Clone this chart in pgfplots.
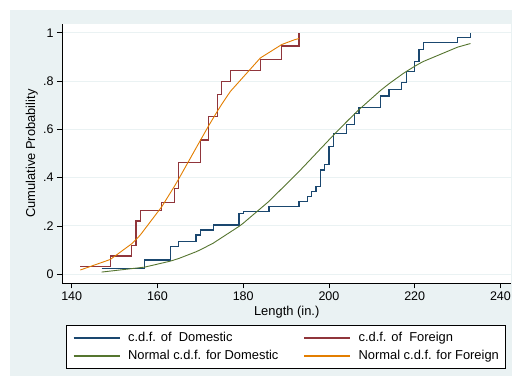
\documentclass[border=0pt]{standalone}
\usepackage{pgfplots}
\pgfplotsset{compat=1.18}
\usepackage{fontspec}
\setmainfont{Liberation Sans}
\definecolor{sbg}{HTML}{EAF2F3}
\definecolor{snavy}{HTML}{1A476F}
\definecolor{smaroon}{HTML}{90353B}
\definecolor{sgreen}{HTML}{55752F}
\definecolor{sorange}{HTML}{E37E00}

\pgfplotstableread{
x y
147 0.025
157 0.059
163 0.114
165 0.135
169 0.163
170 0.183
173 0.204
179 0.252
180 0.259
186 0.280
193 0.300
195 0.321
196 0.342
197 0.365
198 0.432
199 0.455
200 0.528
201 0.584
204 0.621
206 0.666
207 0.690
212 0.738
214 0.766
217 0.793
218 0.839
220 0.880
221 0.931
222 0.959
230 0.981
233 1.000
}\cdfdom

\pgfplotstableread{
x y
142 0.032
149 0.076
154 0.119
155 0.221
156 0.263
161 0.297
164 0.354
165 0.464
170 0.556
172 0.654
174 0.743
175 0.799
177 0.843
184 0.890
189 0.945
193 1.000
}\cdffor

\pgfplotstableread{
x y
147 0.0092
157 0.0296
163 0.0544
165 0.0656
169 0.0932
170 0.1013
173 0.1288
179 0.1980
180 0.2113
186 0.3019
193 0.4251
195 0.4625
196 0.4812
197 0.5000
198 0.5188
199 0.5375
200 0.5563
201 0.5749
204 0.6293
206 0.6646
207 0.6815
212 0.7605
214 0.7887
217 0.8271
218 0.8391
220 0.8610
221 0.8712
222 0.8808
230 0.9402
233 0.9552
}\normdom

\pgfplotstableread{
x y
142 0.0177
149 0.0613
154 0.1263
155 0.1437
156 0.1626
161 0.2796
164 0.3654
165 0.3959
170 0.5541
172 0.6164
174 0.6758
175 0.7040
177 0.7568
184 0.8954
189 0.9511
192 0.9710
193 0.9759
}\normfor

\begin{document}
\begin{tikzpicture}[x=1pt,y=1pt]
\clip (0,0) rectangle (512,376);
\fill[white] (0,0) rectangle (512,376);
\fill[sbg] (10,0) rectangle (520,366);
\begin{axis}[
  at={(62pt,92.7pt)}, anchor=south west,
  scale only axis, width=449.4pt, height=259.3pt,
  xmin=137.74, xmax=242.55, ymin=-0.0373, ymax=1.036,
  axis lines*=left,
  axis line style={-, black, line width=0.8pt},
  axis background/.style={fill=white},
  xtick={140,160,180,200,220,240},
  xticklabels={140,160,180,200,220,240},
  ytick={0,0.2,0.4,0.6,0.8,1},
  yticklabels={0,.2,.4,.6,.8,1},
  tick align=outside,
  major tick length=5pt,
  tick style={black, line width=0.8pt},
  ymajorgrids,
  grid style={sbg, line width=1pt},
  ticklabel style={font=\fontsize{12.5}{14}\selectfont},
  /pgf/number format/assume math mode=true,
  xlabel={Length (in.)},
  ylabel={Cumulative Probability},
  every axis x label/.style={at={(axis description cs:0.5,-0.1095)}, anchor=center, font=\fontsize{12.9}{15}\selectfont},
  every axis y label/.style={at={(axis description cs:-0.0674,0.5)}, anchor=center, rotate=90, font=\fontsize{12.9}{15}\selectfont},
  legend columns=2,
  legend cell align=left,
  legend style={
    name=leg,
    at={(axis description cs:0.0105,-0.1608)}, anchor=north west,
    draw=none, fill=white,
    font=\fontsize{12.9}{15}\selectfont,
    inner xsep=6pt, inner ysep=6.5pt,
    row sep=5.8pt,
    column sep=7.7pt,
    nodes={inner sep=0pt, text height=9.5pt, text depth=2.7pt},
    /tikz/every even column/.append style={column sep=25pt},
  },
]
\addplot[const plot, draw=snavy, line width=1.2pt, forget plot] table {\cdfdom};
\addplot[const plot, draw=smaroon, line width=1.2pt, forget plot] table {\cdffor};
\addplot[draw=sgreen, line width=0.9pt, forget plot] table {\normdom};
\addplot[draw=sorange, line width=0.9pt, forget plot] table {\normfor};
\addlegendimage{legend image code/.code={\draw[snavy, draw=snavy, line width=1.5pt] (0pt,0pt) -- (46pt,0pt);}}
\addlegendentry{c.d.f. of~~Domestic}
\addlegendimage{legend image code/.code={\draw[smaroon, draw=smaroon, line width=1.5pt] (0pt,0pt) -- (46pt,0pt);}}
\addlegendentry{c.d.f. of~~Foreign}
\addlegendimage{legend image code/.code={\draw[sgreen, draw=sgreen, line width=1.5pt] (0pt,0pt) -- (46pt,0pt);}}
\addlegendentry{Normal c.d.f. for Domestic}
\addlegendimage{legend image code/.code={\draw[sorange, draw=sorange, line width=1.5pt] (0pt,0pt) -- (46pt,0pt);}}
\addlegendentry{Normal c.d.f. for Foreign}
\end{axis}
\draw[black, line width=0.6pt] (leg.south west) rectangle (leg.north east);
\end{tikzpicture}
\end{document}
